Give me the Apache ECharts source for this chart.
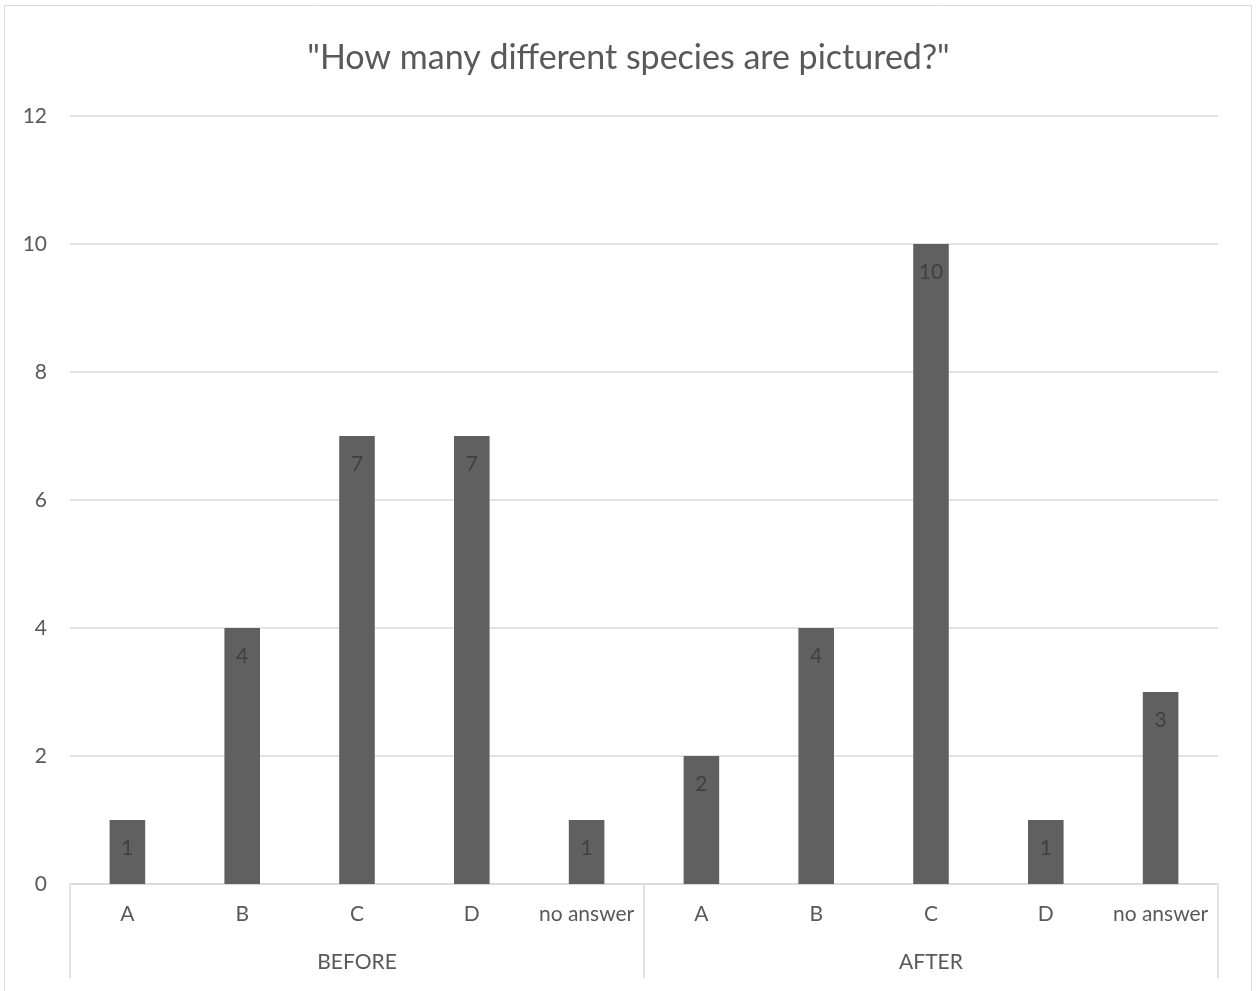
<!DOCTYPE html>
<html>
<head>
<meta charset="utf-8">
<script src="https://cdn.jsdelivr.net/npm/echarts@6/dist/echarts.min.js"></script>
<style>
  html, body { margin: 0; padding: 0; background: #ffffff; }
  #chart { width: 1257px; height: 991px; }
</style>
</head>
<body>
<div id="chart"></div>
<script>
// Answer options shown under each survey round
const options = ['A', 'B', 'C', 'D', 'no answer'];
// Survey rounds (outer axis level)
const rounds = ['BEFORE', 'AFTER'];
// Number of responses per option
const beforeCounts = [1, 4, 7, 7, 1];
const afterCounts = [2, 4, 10, 1, 3];
// Value axis ticks
const yMin = 0, yMax = 12, yStep = 2;

const categories = rounds.flatMap(() => options);
const values = beforeCounts.concat(afterCounts);

const textColor = '#595959';
const lineColor = '#d9d9d9';
const fontFamily = 'Lato, "Open Sans", sans-serif';
const labelSize = 21;

const chart = echarts.init(document.getElementById('chart'));
chart.setOption({
  backgroundColor: '#ffffff',
  animation: false,
  title: {
    text: '"How many different species are pictured?"',
    left: 'center',
    top: 36,
    textStyle: { color: textColor, fontSize: 34, fontWeight: 'normal', fontFamily }
  },
  graphic: [{
    type: 'rect',
    shape: { x: 4.5, y: 5.5, width: 1247, height: 1000 },
    style: { fill: 'none', stroke: lineColor, lineWidth: 1 },
    silent: true
  }],
  grid: { left: 70, right: 39, top: 116, bottom: 107 },
  xAxis: [
    {
      type: 'category',
      data: categories,
      axisLine: { show: true, lineStyle: { color: lineColor, width: 1.5 } },
      axisTick: { show: false },
      axisLabel: { color: textColor, fontSize: labelSize, fontFamily, margin: 20, interval: 0 }
    },
    {
      type: 'category',
      position: 'bottom',
      data: rounds,
      axisLine: { show: false },
      axisTick: { show: true, length: 94, lineStyle: { color: lineColor, width: 1.5 } },
      axisLabel: { color: textColor, fontSize: labelSize, fontFamily, margin: 68 }
    }
  ],
  yAxis: {
    type: 'value',
    min: yMin,
    max: yMax,
    interval: yStep,
    axisLine: { show: false },
    axisTick: { show: false },
    axisLabel: { color: textColor, fontSize: labelSize, fontFamily, margin: 23 },
    splitLine: { lineStyle: { color: lineColor, width: 1.5 } }
  },
  series: [{
    type: 'bar',
    xAxisIndex: 0,
    data: values,
    barWidth: '31%',
    itemStyle: { color: '#606060' },
    label: {
      show: true,
      position: 'insideTop',
      distance: 18,
      color: '#404040',
      fontSize: labelSize,
      fontFamily
    }
  }]
});
</script>
</body>
</html>
